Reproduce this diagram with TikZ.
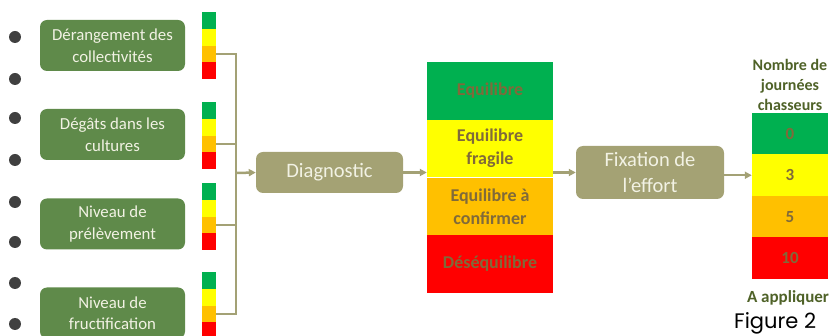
\documentclass[tikz,border=0pt]{standalone}
\usepackage{fontspec}
\setmainfont{Carlito}
\newfontfamily\figfont{Poppins}
\usetikzlibrary{arrows.meta}
\definecolor{boxgreen}{HTML}{5F8A4A}
\definecolor{boxolive}{HTML}{A4A274}
\definecolor{conn}{HTML}{A3A175}
\definecolor{lvgreen}{HTML}{00B050}
\definecolor{lvyellow}{HTML}{FFFF00}
\definecolor{lvorange}{HTML}{FFC000}
\definecolor{lvred}{HTML}{FF0000}
\definecolor{brown}{HTML}{806A3A}
\definecolor{hdgreen}{HTML}{4F6228}
\definecolor{cream}{HTML}{F2F2E4}
\definecolor{bullet}{HTML}{404040}
\tikzset{
  critbox/.style={fill=boxgreen, rounded corners=7pt, minimum width=145pt, minimum height=51pt, inner sep=0pt,
    text=cream, align=center, font=\fontsize{16.8}{21.5}\selectfont},
  procbox/.style={fill=boxolive, rounded corners=7pt, inner sep=0pt,
    text=cream, align=center, font=\fontsize{20.5}{26}\selectfont},
  seg/.style={minimum width=14pt, minimum height=16.75pt, inner sep=0pt, anchor=north west},
  bigseg/.style={minimum width=126pt, minimum height=57.75pt, inner sep=0pt, text=brown, align=center,
    font=\bfseries\fontsize{18}{23}\selectfont},
  numseg/.style={minimum width=76pt, minimum height=41.5pt, inner sep=0pt, text=brown,
    font=\bfseries\fontsize{17}{20}\selectfont},
  dot/.style={circle, fill=bullet, minimum size=12pt, inner sep=0pt},
  link/.style={draw=conn, line width=2.5pt},
  arrowlink/.style={link, -{Triangle[length=7pt,width=7pt]}},
}
\begin{document}
\begin{tikzpicture}[x=1pt,y=-1pt]
\useasboundingbox (0,0) rectangle (833,336);
% bullets
\foreach \i/\yy in {1/37,2/79,3/118,4/160,5/202,6/242,7/283,8/324}{
  \node[dot] (dot\i) at (15,\yy) {};
}
% criteria boxes
\node[critbox] (c1) at (112.5,45.5) {Dérangement des\\collectivités};
\node[critbox] (c2) at (112.5,134.5) {Dégâts dans les\\cultures};
\node[critbox] (c3) at (112.5,224) {Niveau de\\prélèvement};
\node[critbox] (c4) at (112.5,313) {Niveau de\\fructification};
% small level bars
\foreach \i/\t in {1/12,2/102,3/183,4/272}{
  \node[seg, fill=lvgreen] (b\i g) at (202,\t) {};
  \node[seg, fill=lvyellow] (b\i y) at (202,\t+16.75) {};
  \node[seg, fill=lvorange] (b\i o) at (202,\t+33.5) {};
  \node[seg, fill=lvred] (b\i r) at (202,\t+50.25) {};
}
% collector
\coordinate (jt) at (236,54);
\coordinate (jm) at (236,173);
\draw[link] (b1o.east) -- (b1o.east -| jt) -- (b4o.east -| jt) -- (b4o.east);
\draw[link] (b2o.east) -- (b2o.east -| jt);
\draw[link] (b3o.east) -- (b3o.east -| jt);
% diagnostic
\node[procbox, minimum width=147pt, minimum height=41pt] (diag) at (329.5,172.5) {Diagnostic};
\draw[arrowlink] (jm) -- (diag.west);
% big balance bar
\node[bigseg, fill=lvgreen] (e1) at (490,90.9) {Equilibre};
\node[bigseg, fill=lvyellow] (e2) at (490,148.6) {Equilibre\\fragile};
\node[bigseg, fill=lvorange] (e3) at (490,206.4) {Equilibre à\\confirmer};
\node[bigseg, fill=lvred] (e4) at (490,264.1) {Déséquilibre};
\draw[arrowlink] (diag.east) -- (diag.east -| e2.west);
% fixation
\node[procbox, minimum width=148pt, minimum height=53pt] (fix) at (650,172.5) {Fixation de\\l’effort};
\draw[arrowlink] (e2.east |- fix.west) -- (fix.west);
% number bar
\node[numseg, fill=lvgreen] (n1) at (790,133.75) {0};
\node[numseg, fill=lvyellow] (n2) at (790,175.25) {3};
\node[numseg, fill=lvorange] (n3) at (790,216.75) {5};
\node[numseg, fill=lvred] (n4) at (790,258.25) {10};
\draw[arrowlink] (fix.east |- n2.west) -- (n2.west);
\node[anchor=south, inner sep=0pt, align=center, text=hdgreen, font=\bfseries\fontsize{16}{20}\selectfont] (hdr) at (790,111) {Nombre de\\journées\\chasseurs};
\node[anchor=base, inner sep=0pt, text=hdgreen, font=\bfseries\fontsize{17}{20}\selectfont] (appl) at (788,303) {A appliquer};
\node[anchor=base west, inner sep=0pt, text=black, font=\figfont\fontsize{21}{24}\selectfont] (fig) at (734,329) {Figure 2};
\end{tikzpicture}
\end{document}
